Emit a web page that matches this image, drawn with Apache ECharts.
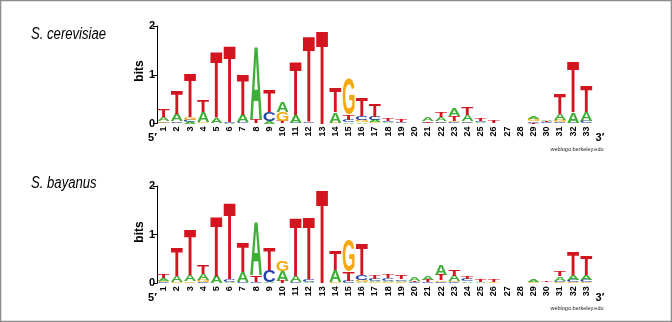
<!DOCTYPE html>
<html>
<head>
<meta charset="utf-8">
<script src="https://cdn.jsdelivr.net/npm/echarts@6/dist/echarts.min.js"></script>
<style>
  html, body { margin: 0; padding: 0; background: #fff; }
  #chart { width: 672px; height: 322px; }
</style>
</head>
<body>
<div id="chart"></div>
<script>
// Alignment positions (x-axis tick labels)
const positions = ['1','2','3','4','5','6','7','8','9','10','11','12','13','14','15','16','17',
  '18','19','20','21','22','23','24','25','26','27','28','29','30','31','32','33'];

// Information content (bits) per base at each position — S. cerevisiae
const cerA = [0.09,0.15,0.04,0.20,0.11,0.02,0.15,1.48,0.05,0.22,0.16,0,0,0.22,0.02,0.03,0.04,0.02,0.01,0,0.07,0.09,0.15,0.12,0.02,0,0,0,0.06,0.03,0.12,0.21,0.18];
const cerC = [0.02,0.03,0.04,0.01,0.01,0.02,0.02,0.01,0.19,0.01,0.02,0.03,0,0,0.06,0.07,0.07,0.03,0.02,0,0.02,0.03,0.03,0.03,0.02,0,0,0,0.03,0.02,0.03,0.02,0.04];
const cerG = [0.03,0.02,0.06,0.02,0,0,0.01,0,0,0.18,0,0,0,0.02,0.73,0.05,0.03,0.01,0,0,0,0.02,0.03,0.02,0.01,0.01,0,0,0.05,0.01,0.04,0,0.01];
const cerT = [0.17,0.47,0.90,0.23,1.37,1.57,0.82,0.08,0.45,0.04,1.10,1.76,1.93,0.50,0.11,0.38,0.27,0.04,0.06,0,0.03,0.11,0.10,0.16,0.05,0.04,0,0,0.02,0.02,0.42,1.04,0.52];

// Information content (bits) per base at each position — S. bayanus
const bayA = [0.06,0.13,0.13,0.13,0.15,0.02,0.22,1.10,0.02,0.20,0.12,0.02,0,0.24,0.01,0.03,0.03,0.03,0.03,0.07,0.08,0.22,0.12,0.03,0.02,0.01,0,0,0.05,0.01,0.09,0.11,0.10];
const bayC = [0.02,0.01,0.01,0.02,0.01,0.06,0.02,0.03,0.25,0,0.02,0.06,0,0,0.04,0.10,0.04,0.05,0.03,0.02,0.02,0.03,0.02,0.04,0.01,0,0,0,0.01,0.01,0.03,0.04,0.05];
const bayG = [0.03,0.02,0.03,0.05,0,0,0,0,0,0.21,0,0,0,0.03,0.66,0.04,0.02,0.02,0.02,0,0.01,0.03,0.02,0.01,0,0.02,0,0,0.02,0,0.02,0.02,0.02];
const bayT = [0.08,0.58,0.94,0.18,1.24,1.58,0.60,0.14,0.45,0.04,1.20,1.27,1.93,0.40,0.19,0.63,0.07,0.07,0.08,0.03,0.04,0.12,0.14,0.06,0.04,0.05,0,0,0,0.03,0.10,0.48,0.41];

const panelTitles = ['S. cerevisiae', 'S. bayanus'];

const LOGO_FONT = 'bold 100px "Liberation Sans", Arial, sans-serif';
const AXIS_FONT = '"Liberation Sans", Arial, sans-serif';
const letterColors = { A: '#3fae36', C: '#2343a6', G: '#f6a80c', T: '#d3151f' };

// Ink box of each glyph, so a letter can be stretched to fill its stack slot exactly
const glyphBox = {};
(function () {
  const ctx = document.createElement('canvas').getContext('2d');
  ctx.font = LOGO_FONT;
  ctx.textAlign = 'center';
  ctx.textBaseline = 'middle';
  for (const ch of 'ACGT') {
    const m = ctx.measureText(ch);
    glyphBox[ch] = {
      L: m.actualBoundingBoxLeft, R: m.actualBoundingBoxRight,
      A: m.actualBoundingBoxAscent, D: m.actualBoundingBoxDescent
    };
  }
})();

function logoSeries(panel, A, C, G, T) {
  return {
    type: 'custom',
    xAxisIndex: panel,
    yAxisIndex: panel,
    silent: true,
    encode: { x: 0, y: 4 },
    data: positions.map((p, i) => [i, A[i], C[i], G[i], T[i]]),
    renderItem(params, api) {
      const idx = api.value(0);
      const stack = [['A', api.value(1)], ['C', api.value(2)], ['G', api.value(3)], ['T', api.value(4)]]
        .filter(d => d[1] > 0)
        .sort((a, b) => a[1] - b[1]);
      const cx = api.coord([idx, 0])[0];
      const w = api.size([1, 0])[0] * 0.9;
      const children = [];
      let base = 0;
      for (const [ch, h] of stack) {
        const yBot = api.coord([idx, base])[1];
        const yTop = api.coord([idx, base + h])[1];
        base += h;
        const b = glyphBox[ch];
        const sx = w / (b.L + b.R);
        const sy = (yBot - yTop) / (b.A + b.D);
        children.push({
          type: 'text',
          x: cx - w / 2 + b.L * sx,
          y: yTop + b.A * sy,
          scaleX: sx,
          scaleY: sy,
          style: {
            text: ch, font: LOGO_FONT, fill: letterColors[ch],
            align: 'center', verticalAlign: 'middle'
          }
        });
      }
      return { type: 'group', children };
    }
  };
}

function xAxisFor(panel) {
  return {
    type: 'category', gridIndex: panel, data: positions,
    axisLine: { show: false }, axisTick: { show: false },
    axisLabel: {
      interval: 0, rotate: 90, margin: 3,
      fontFamily: AXIS_FONT, fontWeight: 'bold', fontSize: 9, color: '#000'
    }
  };
}

function yAxisFor(panel) {
  return {
    type: 'value', gridIndex: panel, min: 0, max: 2, interval: 1,
    axisLine: { show: true, lineStyle: { color: '#000', width: 1 } },
    axisTick: { show: true, length: 4, lineStyle: { color: '#000', width: 1 } },
    splitLine: { show: false },
    axisLabel: { margin: 2, fontFamily: AXIS_FONT, fontWeight: 'bold', fontSize: 11, color: '#000' }
  };
}

function panelDecor(titleBaseline, bitsY, labelY, creditY, title) {
  return [
    {
      // condensed italic species name
      type: 'text', x: 31, y: titleBaseline, scaleX: 0.82,
      style: {
        text: title, font: 'italic 16px ' + AXIS_FONT, fill: '#000',
        align: 'left', verticalAlign: 'middle'
      }
    },
    {
      // y-axis title
      type: 'text', x: 139.5, y: bitsY, rotation: Math.PI / 2,
      style: { text: 'bits', font: 'bold 12px ' + AXIS_FONT, fill: '#000', align: 'center', verticalAlign: 'middle' }
    },
    {
      type: 'text', x: 152.5, y: labelY,
      style: { text: '5\u2032', font: 'bold 11px ' + AXIS_FONT, fill: '#000', align: 'center', verticalAlign: 'middle' }
    },
    {
      type: 'text', x: 600, y: labelY,
      style: { text: '3\u2032', font: 'bold 11px ' + AXIS_FONT, fill: '#000', align: 'center', verticalAlign: 'middle' }
    },
    {
      type: 'text', x: 577, y: creditY,
      style: { text: 'weblogo.berkeley.edu', font: '5.5px ' + AXIS_FONT, fill: '#222', align: 'center', verticalAlign: 'middle' }
    }
  ];
}

const chart = echarts.init(document.getElementById('chart'), null, { renderer: 'canvas' });
chart.setOption({
  animation: false,
  backgroundColor: '#fff',
  grid: [
    { left: 157, top: 26, width: 436, height: 97.5 },
    { left: 157, top: 186, width: 436, height: 97.3 }
  ],
  xAxis: [xAxisFor(0), xAxisFor(1)],
  yAxis: [yAxisFor(0), yAxisFor(1)],
  series: [
    logoSeries(0, cerA, cerC, cerG, cerT),
    logoSeries(1, bayA, bayC, bayG, bayT)
  ],
  graphic: [
    {
      type: 'rect', shape: { x: 0.5, y: 0.5, width: 671, height: 321 },
      style: { fill: 'none', stroke: '#8c8c8c', lineWidth: 1.5 }, silent: true
    },
    ...panelDecor(34.5, 71, 137.5, 149, panelTitles[0]),
    ...panelDecor(184, 232, 297.5, 308, panelTitles[1])
  ]
});
</script>
</body>
</html>
